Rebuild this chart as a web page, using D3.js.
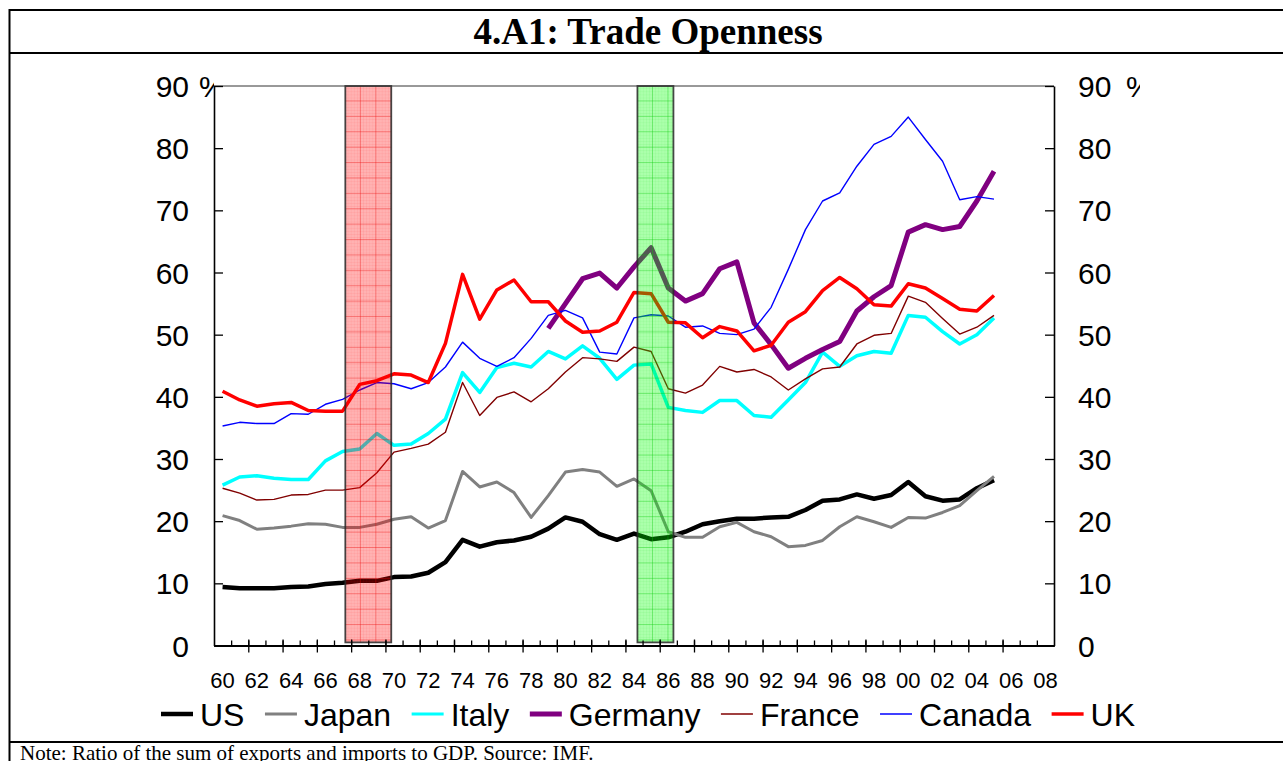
<!DOCTYPE html>
<html><head><meta charset="utf-8">
<script src="https://cdn.jsdelivr.net/npm/d3@7/dist/d3.min.js"></script>
<style>html,body{margin:0;padding:0;background:#fff;overflow:hidden}</style>
</head><body>
<svg id="c" width="1283" height="761"></svg>
<script>
// ---------------- data ----------------
const years = [1960,1961,1962,1963,1964,1965,1966,1967,1968,1969,1970,1971,1972,1973,1974,1975,1976,1977,1978,1979,
  1980,1981,1982,1983,1984,1985,1986,1987,1988,1989,1990,1991,1992,1993,1994,1995,1996,1997,1998,1999,
  2000,2001,2002,2003,2004,2005,2006,2007,2008];
const dataYears = years.slice(0, 46); // 1960-2005
const tickLabels = ["60","62","64","66","68","70","72","74","76","78","80","82","84","86","88","90","92","94","96","98","00","02","04","06","08"];
const yTicks = [0,10,20,30,40,50,60,70,80,90];
const seriesNames = ["US","Japan","Italy","Germany","France","Canada","UK"];

const us = [9.4,9.2,9.2,9.2,9.4,9.5,9.9,10.1,10.4,10.4, 11.0,11.1,11.7,13.4,17.0,15.9,16.6,16.9,17.5,18.8,
  20.6,19.9,17.9,17.0,18.0,17.1,17.4,18.3,19.5,20.0, 20.4,20.4,20.6,20.7,21.8,23.3,23.5,24.3,23.6,24.2,
  26.3,24.0,23.3,23.5,25.3,26.6];
const japan = [20.9,20.1,18.7,18.9,19.2,19.6,19.5,19.0,19.0,19.5, 20.3,20.7,18.9,20.1,28.0,25.5,26.3,24.6,20.6,24.1,
  27.9,28.3,27.9,25.6,26.8,24.9,18.3,17.4,17.4,19.1, 19.8,18.3,17.5,15.9,16.1,16.9,19.1,20.7,19.9,19.0,
  20.6,20.5,21.4,22.5,24.9,27.2];
const italy = [25.8,27.1,27.3,26.9,26.7,26.7,29.7,31.2,31.6,34.1, 32.2,32.4,34.1,36.4,43.9,40.7,44.7,45.4,44.8,47.3,
  46.1,48.2,46.2,42.8,45.1,45.3,38.3,37.8,37.5,39.4, 39.4,37.0,36.7,39.5,42.3,47.2,44.9,46.6,47.3,47.0,
  53.1,52.8,50.5,48.5,50.0,52.7];
const germany = [null,null,null,null,null,null,null,null,null,null, null,null,null,null,null,null,null,null,null,51.0,
  55.0,59.0,59.9,57.5,60.9,64.0,57.5,55.4,56.6,60.6, 61.7,51.9,48.4,44.6,46.2,47.6,48.9,53.8,56.1,57.9,
  66.5,67.7,66.9,67.4,71.5,76.3];
const france = [25.3,24.5,23.4,23.5,24.2,24.3,25.0,25.0,25.4,27.8, 31.1,31.7,32.4,34.3,42.3,37.0,39.9,40.8,39.2,41.3,
  44.0,46.3,46.1,45.7,48.0,47.3,41.3,40.6,41.9,44.9, 44.0,44.4,43.2,41.1,42.9,44.5,44.8,48.5,49.9,50.2,
  56.2,55.2,52.6,50.1,51.2,53.1];
const canada = [35.3,35.9,35.7,35.7,37.3,37.2,38.8,39.6,41.1,42.3, 42.1,41.3,42.3,44.8,48.8,46.2,44.9,46.3,49.4,53.1,
  53.9,52.7,47.2,46.9,52.7,53.2,53.0,51.2,51.4,50.2, 50.0,50.9,54.4,60.5,66.9,71.5,72.8,77.1,80.6,81.9,
  85.0,81.4,77.9,71.7,72.2,71.8];
const uk = [40.9,39.5,38.5,38.9,39.1,37.8,37.7,37.7,42.0,42.6, 43.7,43.5,42.3,48.6,59.7,52.5,57.2,58.8,55.3,55.3,
  52.2,50.4,50.6,52.0,56.8,56.6,52.0,51.9,49.5,51.3, 50.6,47.4,48.3,52.0,53.7,57.1,59.2,57.4,54.8,54.6,
  58.2,57.5,55.8,54.1,53.8,56.3];
const seriesValues = [us, japan, italy, germany, france, canada, uk];

// shaded periods (in fractional years)
const shadeStart = [1967.66, 1984.70];
const shadeEnd   = [1970.34, 1986.80];
const shadeTop = 90, shadeBottom = 0.5;

// ---------------- styles ----------------
const colors = ["#000000","#808080","#00ffff","#800080","#800000","#0000ff","#ff0000"];
const widths = [4.5,3,3.5,5,1.4,1.4,3.5];
const legendWidths = [4.5,3,3,5,1.5,1.5,3.5];
const shadeFill = ["rgba(255,0,0,0.30)","rgba(0,255,0,0.33)"];
const shadeGrid = ["rgba(235,0,0,0.55)","rgba(0,200,0,0.55)"];
const shadeFine = ["rgba(255,0,0,0.12)","rgba(0,200,0,0.12)"];

const W = 1283, H = 761;
const plotL = 214, plotR = 1054, plotT = 86, plotB = 645.5;
const sans = "'Liberation Sans', Arial, sans-serif";
const serif = "'Liberation Serif', 'Times New Roman', serif";

const svg = d3.select("#c");
const defs = svg.append("defs");

const xBand = d3.scaleBand().domain(years).range([plotL, plotR]).padding(0);
const xLin = d3.scaleLinear().domain([years[0], years[years.length-1] + 1]).range([plotL, plotR]);
const y = d3.scaleLinear().domain([0, 90]).range([plotB, plotT]);
const bw = xBand.bandwidth();

// ---------------- frame & title ----------------
const frame = svg.append("g").attr("stroke","#000").attr("stroke-width",2);
frame.append("line").attr("x1",9).attr("x2",W).attr("y1",10).attr("y2",10);
frame.append("line").attr("x1",9).attr("x2",W).attr("y1",53).attr("y2",53);
frame.append("line").attr("x1",9).attr("x2",W).attr("y1",742).attr("y2",742);
frame.append("line").attr("x1",9.5).attr("x2",9.5).attr("y1",9).attr("y2",H);

svg.append("text").attr("x",648).attr("y",44).attr("text-anchor","middle")
  .attr("font-family",serif).attr("font-weight","bold").attr("font-size",37)
  .text("4.A1: Trade Openness");

svg.append("text").attr("x",20).attr("y",759.5)
  .attr("font-family",serif).attr("font-size",21)
  .text("Note: Ratio of the sum of exports and imports to GDP. Source: IMF.");

// ---------------- lines ----------------
const line = d3.line()
  .defined(d => d.v != null)
  .x(d => xBand(d.year) + bw/2)
  .y(d => y(d.v));

const gLines = svg.append("g");
seriesValues.forEach((vals, i) => {
  const pts = dataYears.map((yr, j) => ({year: yr, v: vals[j]}));
  gLines.append("path").datum(pts)
    .attr("fill","none").attr("stroke",colors[i]).attr("stroke-width",widths[i])
    .attr("stroke-linejoin","round").attr("stroke-linecap","butt")
    .attr("d", line);
});

// ---------------- shaded bars ----------------
const gShade = svg.append("g");
shadeStart.forEach((s, i) => {
  const x0 = xLin(s), x1 = xLin(shadeEnd[i]);
  const y0 = y(shadeTop), y1 = y(shadeBottom);
  const pid = "pat" + i, fid = "fine" + i;
  const pat = defs.append("pattern").attr("id",pid).attr("patternUnits","userSpaceOnUse")
    .attr("x",x0).attr("y",y0).attr("width",15.5).attr("height",15.4);
  pat.append("line").attr("x1",15.5).attr("x2",15.5).attr("y1",0).attr("y2",15.4).attr("stroke",shadeGrid[i]).attr("stroke-width",1.2);
  pat.append("line").attr("x1",0).attr("x2",15.5).attr("y1",15.4).attr("y2",15.4).attr("stroke",shadeGrid[i]).attr("stroke-width",1.2);
  const fine = defs.append("pattern").attr("id",fid).attr("patternUnits","userSpaceOnUse")
    .attr("x",x0).attr("y",y0).attr("width",3.1).attr("height",3.1);
  fine.append("line").attr("x1",3.1).attr("x2",3.1).attr("y1",0).attr("y2",3.1).attr("stroke",shadeFine[i]).attr("stroke-width",0.8);
  fine.append("line").attr("x1",0).attr("x2",3.1).attr("y1",3.1).attr("y2",3.1).attr("stroke",shadeFine[i]).attr("stroke-width",0.8);
  gShade.append("rect").attr("x",x0).attr("y",y0).attr("width",x1-x0).attr("height",y1-y0).attr("fill",shadeFill[i]);
  gShade.append("rect").attr("x",x0).attr("y",y0).attr("width",x1-x0).attr("height",y1-y0).attr("fill",`url(#${fid})`);
  gShade.append("rect").attr("x",x0).attr("y",y0).attr("width",x1-x0).attr("height",y1-y0).attr("fill",`url(#${pid})`);
  gShade.append("rect").attr("x",x0).attr("y",y0).attr("width",x1-x0).attr("height",y1-y0)
    .attr("fill","none").attr("stroke","rgba(40,40,40,0.85)").attr("stroke-width",1.8);
});

// ---------------- axes ----------------
svg.append("line").attr("x1",plotL).attr("x2",plotR).attr("y1",plotT).attr("y2",plotT)
  .attr("stroke","#333").attr("stroke-width",1);

const yl = svg.append("g").attr("transform",`translate(${plotL},0)`)
  .call(d3.axisLeft(y).tickValues(yTicks).tickSize(-9).tickSizeOuter(0).tickPadding(25).tickFormat(d3.format("d")));
const yr = svg.append("g").attr("transform",`translate(${plotR},0)`)
  .call(d3.axisRight(y).tickValues(yTicks).tickSize(-9).tickSizeOuter(0).tickPadding(24).tickFormat(d3.format("d")));
[yl, yr].forEach(g => {
  g.selectAll("text").attr("font-family",sans).attr("font-size",30).attr("fill","#000").attr("dy","0.35em");
  g.selectAll("line").attr("stroke","#000").attr("stroke-width",1.3);
  g.select(".domain").attr("stroke","#000").attr("stroke-width",1.6);
});

// % signs (clipped like the original)
defs.append("clipPath").attr("id","clipL").append("rect").attr("x",0).attr("y",0).attr("width",plotL).attr("height",H);
defs.append("clipPath").attr("id","clipR").append("rect").attr("x",plotR+2).attr("y",0).attr("width",1140-plotR-2).attr("height",H);
svg.append("text").attr("clip-path","url(#clipL)").attr("x",199).attr("y",y(90)).attr("dy","0.35em")
  .attr("font-family",sans).attr("font-size",30).text("%");
svg.append("text").attr("clip-path","url(#clipR)").attr("x",1126).attr("y",y(90)).attr("dy","0.35em")
  .attr("font-family",sans).attr("font-size",30).text("%");

// x axis
const boundaries = years.concat([years[years.length-1] + 1]);
const majorB = boundaries.filter((b, i) => i % 2 === 0);
const gx = svg.append("g").attr("transform",`translate(0,${y(0)})`);
gx.append("g").call(d3.axisBottom(xLin).tickValues(boundaries.slice(1,-1)).tickSize(-5).tickSizeOuter(0).tickFormat(""));
gx.append("g").call(d3.axisBottom(xLin).tickValues(majorB.slice(1,-1)).tickSize(-6).tickSizeOuter(0).tickFormat(""));
gx.append("g").call(d3.axisBottom(xLin).tickValues(majorB.slice(1,-1)).tickSize(7).tickSizeOuter(0).tickFormat(""));
gx.selectAll("line").attr("stroke","#000").attr("stroke-width",1.3);
gx.selectAll(".domain").attr("stroke","#000").attr("stroke-width",2);
const evenYears = years.filter((d, i) => i % 2 === 0);
const gxl = svg.append("g").attr("transform",`translate(0,${y(0)})`)
  .call(d3.axisBottom(xBand).tickValues(evenYears).tickSize(0).tickPadding(27)
    .tickFormat((d) => tickLabels[evenYears.indexOf(d)]));
gxl.select(".domain").remove();
gxl.selectAll("text").attr("font-family",sans).attr("font-size",22).attr("fill","#000");

// ---------------- legend ----------------
const gLeg = svg.append("g");
let lx = 161;
const ly = 714;
seriesNames.forEach((name, i) => {
  gLeg.append("line").attr("x1",lx).attr("x2",lx+32).attr("y1",ly).attr("y2",ly)
    .attr("stroke",colors[i]).attr("stroke-width",legendWidths[i]);
  const t = gLeg.append("text").attr("x",lx+39).attr("y",ly+12)
    .attr("font-family",sans).attr("font-size",32).text(name);
  lx = lx + 39 + t.node().getComputedTextLength() + 20.5;
});
</script>
</body></html>
